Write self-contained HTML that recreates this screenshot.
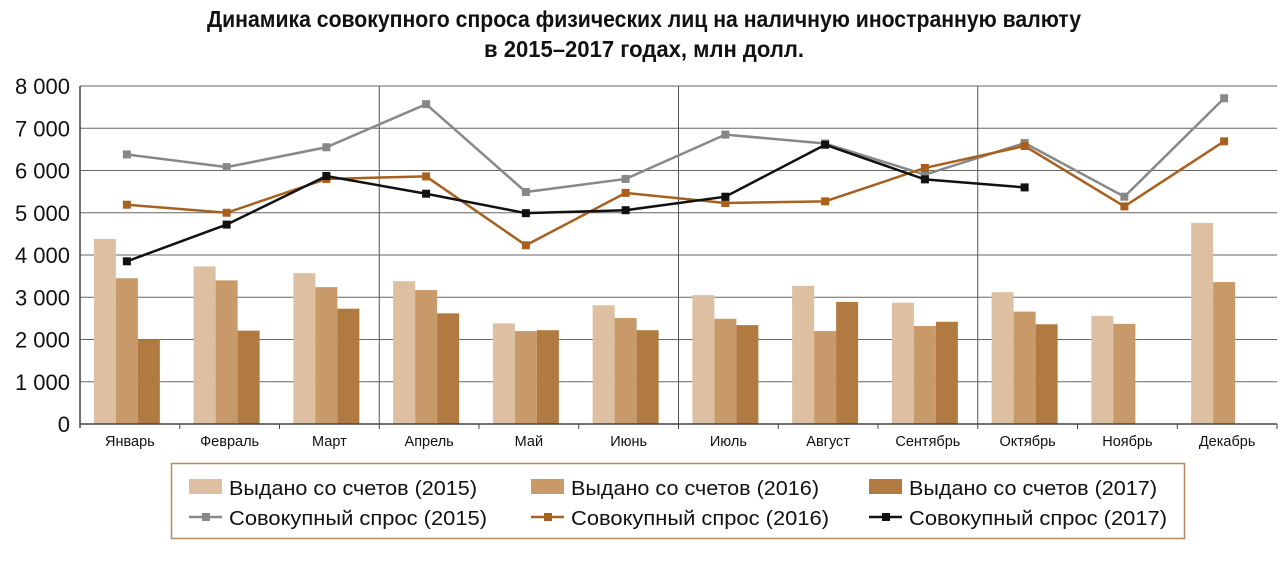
<!DOCTYPE html>
<html><head><meta charset="utf-8"><style>
body{margin:0;width:1280px;height:563px;background:#fff;overflow:hidden;font-family:"Liberation Sans",sans-serif}
svg{display:block}
</style></head><body>
<svg id="chart" width="1280" height="563" xmlns="http://www.w3.org/2000/svg">
<g font-weight="bold" font-size="23" text-anchor="middle" fill="#111">
<text x="644" y="27" textLength="874" lengthAdjust="spacingAndGlyphs">Динамика совокупного спроса физических лиц на наличную иностранную валюту</text>
<text x="644" y="57" textLength="320" lengthAdjust="spacingAndGlyphs">в 2015–2017 годах, млн долл.</text>
</g>
<g id="grid"></g>
<g id="bars"></g>
<g id="lines"></g>
<g id="axes"></g>
<g font-size="20" fill="#111">
<rect x="171.5" y="463.5" width="1013" height="75" fill="none" stroke="#b8895a" stroke-width="1.5"/>
<g><rect x="189" y="479" width="33" height="15" fill="#dcc0a1"/><text x="229" y="495" textLength="248" lengthAdjust="spacingAndGlyphs">Выдано со счетов (2015)</text></g>
<g><rect x="531" y="479" width="33" height="15" fill="#c89a6a"/><text x="571" y="495" textLength="248" lengthAdjust="spacingAndGlyphs">Выдано со счетов (2016)</text></g>
<g><rect x="869" y="479" width="33" height="15" fill="#b07a40"/><text x="909" y="495" textLength="248" lengthAdjust="spacingAndGlyphs">Выдано со счетов (2017)</text></g>
<g><line x1="189" x2="222" y1="517" y2="517" stroke="#888" stroke-width="2.5"/><rect x="202" y="513" width="8" height="8" fill="#888"/><text x="229" y="525" textLength="258" lengthAdjust="spacingAndGlyphs">Совокупный спрос (2015)</text></g>
<g><line x1="531" x2="564" y1="517" y2="517" stroke="#a8601e" stroke-width="2.5"/><rect x="544" y="513" width="8" height="8" fill="#a8601e"/><text x="571" y="525" textLength="258" lengthAdjust="spacingAndGlyphs">Совокупный спрос (2016)</text></g>
<g><line x1="869" x2="902" y1="517" y2="517" stroke="#111" stroke-width="2.5"/><rect x="882" y="513" width="8" height="8" fill="#111"/><text x="909" y="525" textLength="258" lengthAdjust="spacingAndGlyphs">Совокупный спрос (2017)</text></g>
</g>
</svg>
<script>
const months=["Январь","Февраль","Март","Апрель","Май","Июнь","Июль","Август","Сентябрь","Октябрь","Ноябрь","Декабрь"];
const bars2015=[4380,3730,3570,3380,2380,2810,3050,3270,2870,3120,2560,4760];
const bars2016=[3450,3400,3240,3170,2200,2510,2490,2200,2320,2660,2370,3360];
const bars2017=[2000,2210,2730,2620,2220,2220,2340,2890,2420,2360,null,null];
const demand2015=[6380,6080,6550,7570,5490,5800,6850,6640,5900,6650,5380,7710];
const demand2016=[5190,5000,5800,5860,4230,5470,5230,5270,6060,6580,5150,6690];
const demand2017=[3850,4720,5870,5450,4990,5060,5380,6610,5790,5600,null,null];
const yTicks=[0,1000,2000,3000,4000,5000,6000,7000,8000];
const yTickLabels=["0","1 000","2 000","3 000","4 000","5 000","6 000","7 000","8 000"];

const NS="http://www.w3.org/2000/svg";
const X0=80,X1=1277,Y0=424,YT=86,YMAX=8000;
const bw=(X1-X0)/months.length;
const y=v=>Y0-(v/YMAX)*(Y0-YT);
const xc=i=>X0+bw*(i+0.5);
function mk(tag,attrs,parent){const e=document.createElementNS(NS,tag);for(const k in attrs)e.setAttribute(k,attrs[k]);parent.appendChild(e);return e;}
const grid=document.getElementById('grid'),barsG=document.getElementById('bars'),linesG=document.getElementById('lines'),axes=document.getElementById('axes');
yTicks.forEach((t,i)=>{
  if(t>0){const l=mk('line',{x1:X0,x2:X1,y1:y(t),y2:y(t),stroke:'#666','stroke-width':1},grid);
  
  }
  const tx=mk('text',{x:70,y:y(t)+8,'text-anchor':'end','font-size':22,fill:'#111'},axes);
  tx.textContent=yTickLabels[i];
  
  
});
[3,6,9].forEach(k=>{const l=mk('line',{x1:X0+bw*k,x2:X0+bw*k,y1:YT,y2:Y0,stroke:'#555','stroke-width':1},grid);
  
  });
const series=[[bars2015,'#dcc0a1'],[bars2016,'#c89a6a'],[bars2017,'#b07a40']];
const w=22;
series.forEach(([arr,col],s)=>{arr.forEach((v,i)=>{if(v==null)return;
  const x=xc(i)-3-1.5*w+s*w;
  const r=mk('rect',{x:x,y:y(v),width:w,height:Y0-y(v),fill:col},barsG);
  
  });});
const lines=[[demand2015,'#888'],[demand2016,'#a8601e'],[demand2017,'#111']];
lines.forEach(([arr,col],s)=>{
  const pts=arr.map((v,i)=>v==null?null:[xc(i)-3,y(v)]).filter(p=>p);
  const pl=mk('polyline',{points:pts.map(p=>p.join(',')).join(' '),fill:'none',stroke:col,'stroke-width':2.5},linesG);
  
  
  pts.forEach(p=>{const m=mk('rect',{x:p[0]-4,y:p[1]-4,width:8,height:8,fill:col},linesG);
    
    });
});
const ax=mk('line',{x1:X0,x2:X1,y1:Y0,y2:Y0,stroke:'#444','stroke-width':1.5},axes);


const ay=mk('line',{x1:X0,x2:X0,y1:YT,y2:Y0+4,stroke:'#444','stroke-width':1.5},axes);


for(let k=1;k<=12;k++){const t=mk('line',{x1:X0+bw*k,x2:X0+bw*k,y1:Y0,y2:Y0+5,stroke:'#444'},axes);
  
  }
months.forEach((m,i)=>{const t=mk('text',{x:xc(i),y:Y0+22,'text-anchor':'middle','font-size':14.5,fill:'#111'},axes);
  t.textContent=m;
  
  });
</script>
</body></html>
